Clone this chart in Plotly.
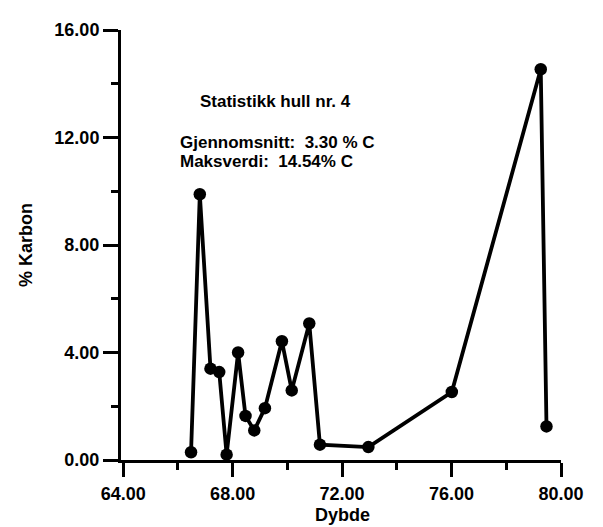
import plotly.graph_objects as go

# Data
dybde = [66.48, 66.80, 67.19, 67.51, 67.78, 68.20, 68.47, 68.79, 69.18,
         69.80, 70.16, 70.80, 71.19, 72.96, 76.01, 79.26, 79.47]
karbon = [0.29, 9.89, 3.40, 3.27, 0.20, 4.00, 1.64, 1.10, 1.93,
          4.42, 2.59, 5.08, 0.57, 0.48, 2.53, 14.54, 1.25]

x_ticks = [64, 68, 72, 76, 80]
y_ticks = [0, 4, 8, 12, 16]

title_text = "Statistikk hull nr. 4"
mean_text = "Gjennomsnitt:\u00a0\u00a03.30 % C"
max_text = "Maksverdi:\u00a0\u00a014.54% C"
x_title = "Dybde"
y_title = "% Karbon"

FONT = "Liberation Sans, Arial, sans-serif"


def f(size):
    return dict(family=FONT, size=size, color="black", weight="bold")


fig = go.Figure()
fig.add_trace(go.Scatter(
    x=dybde, y=karbon, mode="lines+markers",
    line=dict(color="black", width=3.8),
    marker=dict(color="black", size=12.5),
    cliponaxis=False, showlegend=False,
))

axis_common = dict(
    showline=True, linecolor="black", linewidth=3,
    ticks="outside", tickcolor="black", tickwidth=2.5,
    showgrid=False, zeroline=False, tickformat=".2f",
    tickfont=f(18),
)

# the page body has an 8px margin, so the figure is 8px smaller on each side
fig.update_layout(
    width=595, height=519, autosize=False,
    margin=dict(l=113, r=42, t=15, b=67),
    paper_bgcolor="white", plot_bgcolor="white",
    font=f(18),
    xaxis=dict(range=[63.92, 80], tickmode="array", tickvals=x_ticks,
               ticklen=14, ticklabelstandoff=1,
               minor=dict(ticks="outside", ticklen=7, tickwidth=2.5,
                          tickcolor="black", tick0=64, dtick=2),
               **axis_common),
    yaxis=dict(range=[0, 16], tickmode="array", tickvals=y_ticks,
               ticklen=15,
               minor=dict(ticks="outside", ticklen=7, tickwidth=2.5,
                          tickcolor="black", tick0=0, dtick=2),
               **axis_common),
    annotations=[
        dict(text=title_text, xref="paper", yref="paper", x=0.35, y=0.833,
             xanchor="center", yanchor="middle", showarrow=False, font=f(17)),
        dict(text=mean_text, xref="paper", yref="paper", x=0.1295, y=0.7375,
             xanchor="left", yanchor="middle", showarrow=False, font=f(17)),
        dict(text=max_text, xref="paper", yref="paper", x=0.1295, y=0.695,
             xanchor="left", yanchor="middle", showarrow=False, font=f(17)),
        dict(text=x_title, xref="paper", yref="paper", x=0.5045, y=-0.128,
             xanchor="center", yanchor="middle", showarrow=False, font=f(18)),
        dict(text=y_title, xref="paper", yref="paper", x=-0.216, y=0.5,
             xanchor="center", yanchor="middle", showarrow=False, textangle=-90,
             font=f(18)),
    ],
)

fig.write_html("out.html")
